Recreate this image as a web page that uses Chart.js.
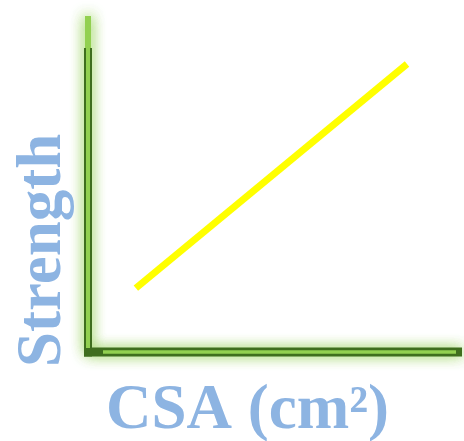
<!DOCTYPE html>
<html>
<head>
<meta charset="utf-8">
<script src="https://cdn.jsdelivr.net/npm/chart.js@4/dist/chart.umd.min.js"></script>
<style>
html,body{margin:0;padding:0;background:#ffffff;}
#wrap{width:464px;height:441px;}
</style>
</head>
<body>
<div id="wrap"><canvas id="c" width="464" height="441"></canvas></div>
<script>
// Data
const xValues = [1.28, 8.53];
const yValues = [1.90, 8.57];
const xTitle = "CSA (cm²)";
const yTitle = "Strength";
const xRange = [0, 10];
const yRange = [0, 10];

const points = xValues.map((x, i) => ({x: x, y: yValues[i]}));

const axesPlugin = {
  id: 'glowAxes',
  beforeDatasetsDraw(chart) {
    const ctx = chart.ctx;
    const xs = chart.scales.x, ys = chart.scales.y;
    const L = xs.getPixelForValue(xRange[0]);
    const R = xs.getPixelForValue(xRange[1]);
    const B = ys.getPixelForValue(yRange[0]);
    const T = ys.getPixelForValue(yRange[1]);
    ctx.save();
    ctx.lineCap = 'butt';
    // glow
    ctx.shadowColor = 'rgba(146,208,80,0.85)';
    ctx.shadowBlur = 14;
    ctx.strokeStyle = '#92D050';
    ctx.lineWidth = 6;
    ctx.beginPath();
    ctx.moveTo(L, T); ctx.lineTo(L, B);
    ctx.moveTo(L, B); ctx.lineTo(R, B);
    ctx.stroke();
    ctx.stroke();
    ctx.shadowBlur = 0;
    ctx.shadowColor = 'transparent';
    // dark outer
    ctx.strokeStyle = '#3F6E1E';
    ctx.lineWidth = 8;
    ctx.beginPath();
    ctx.moveTo(L, T + 32); ctx.lineTo(L, B + 4.5);
    ctx.stroke();
    ctx.lineWidth = 9;
    ctx.beginPath();
    ctx.moveTo(L - 4, B); ctx.lineTo(R, B);
    ctx.stroke();
    // light core
    ctx.strokeStyle = '#92D050';
    ctx.lineWidth = 4;
    ctx.beginPath();
    ctx.moveTo(L, T); ctx.lineTo(L, B - 4);
    ctx.stroke();
    ctx.lineWidth = 3.5;
    ctx.beginPath();
    ctx.moveTo(L + 15, B); ctx.lineTo(R - 6, B);
    ctx.stroke();
    ctx.restore();
  },
  afterDraw(chart) {
    const ctx = chart.ctx;
    const a = chart.chartArea;
    ctx.save();
    ctx.fillStyle = '#8DB4E2';
    ctx.textBaseline = 'alphabetic';
    ctx.textAlign = 'left';
    ctx.font = 'bold 63px "Liberation Serif", "Times New Roman", serif';
    ctx.fillText(xTitle, a.left + 18, a.bottom + 76);
    ctx.font = 'bold 63px "Liberation Serif", "Times New Roman", serif';
    ctx.translate(a.left - 28, a.bottom + 15);
    ctx.rotate(-Math.PI / 2);
    ctx.fillText(yTitle, 0, 0);
    ctx.restore();
  }
};

new Chart(document.getElementById('c'), {
  type: 'line',
  data: {
    datasets: [{
      data: points,
      borderColor: '#FFFF00',
      borderWidth: 7,
      borderCapStyle: 'butt',
      pointRadius: 0,
      fill: false,
      tension: 0
    }]
  },
  options: {
    responsive: false,
    animation: false,
    devicePixelRatio: 1,
    layout: {padding: {left: 88, right: 2, top: 16, bottom: 89}},
    plugins: {legend: {display: false}, tooltip: {enabled: false}},
    scales: {
      x: {type: 'linear', min: xRange[0], max: xRange[1], display: false},
      y: {type: 'linear', min: yRange[0], max: yRange[1], display: false}
    }
  },
  plugins: [axesPlugin]
});
</script>
</body>
</html>
